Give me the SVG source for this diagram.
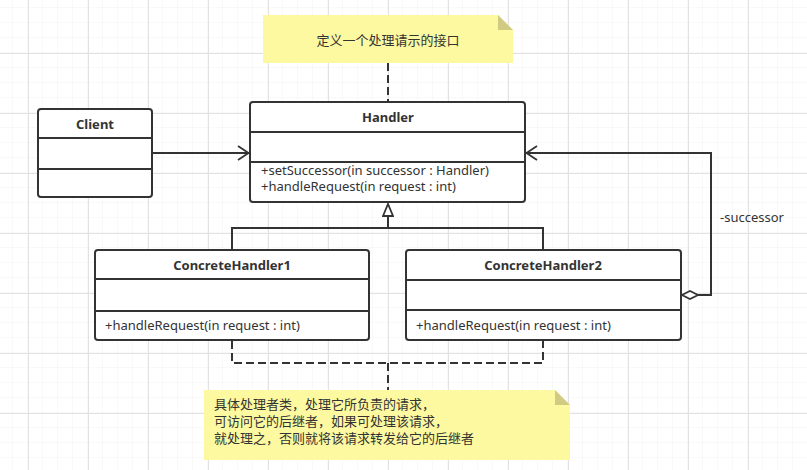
<svg xmlns="http://www.w3.org/2000/svg" width="807" height="470" viewBox="0 0 807 470">
<defs>
<pattern id="minor" x="-2" y="8" width="15" height="15" patternUnits="userSpaceOnUse">
<path d="M15 0V15M0 15H15" fill="none" stroke="#f2f2f2" stroke-width="1"/>
</pattern>
<pattern id="major" x="28" y="53" width="60" height="60" patternUnits="userSpaceOnUse">
<path d="M0.5 0V60M0 0.5H60" fill="none" stroke="#e2e2e2" stroke-width="1"/>
</pattern>
<marker id="open" viewBox="0 0 12 16" refX="12" refY="8" markerWidth="12" markerHeight="16" markerUnits="userSpaceOnUse" orient="auto">
<path d="M1 1L11.5 8L1 15" fill="none" stroke="#333" stroke-width="1.8"/>
</marker>
<marker id="tri" viewBox="0 0 14 12" refX="13" refY="6" markerWidth="14" markerHeight="12" markerUnits="userSpaceOnUse" orient="auto">
<path d="M1 1L13 6L1 11Z" fill="#fff" stroke="#333" stroke-width="1.8"/>
</marker>
<marker id="dia" viewBox="0 0 18 10" refX="1" refY="5" markerWidth="18" markerHeight="10" markerUnits="userSpaceOnUse" orient="auto">
<path d="M1 5L9 1L17 5L9 9Z" fill="#fff" stroke="#333" stroke-width="1.6"/>
</marker>
</defs>
<style>
.box{fill:#fff;stroke:#333;stroke-width:2}
.div{stroke:#333;stroke-width:2}
.t{font-family:"Noto Sans","Noto Sans CJK SC",sans-serif;font-size:13px;fill:#333}
.b{font-weight:bold;text-anchor:middle}
.c{font-family:"Noto Sans CJK SC","Noto Sans",sans-serif;font-size:13px;fill:#333}
.note{fill:#fdf9a1}
.fold{fill:#d0ca82}
.ln{fill:none;stroke:#333;stroke-width:2}
.dash{fill:none;stroke:#333;stroke-width:2;stroke-dasharray:8 4}
</style>
<rect width="807" height="470" fill="#fff"/>
<rect width="807" height="470" fill="url(#minor)"/>
<rect width="807" height="470" fill="url(#major)"/>

<g id="connectors">
<path class="dash" d="M388 63V102"/>
<path class="ln" d="M152 153H249" marker-end="url(#open)"/>
<path class="ln" d="M232 250V228H543V250"/>
<path class="ln" d="M388 228V204" marker-end="url(#tri)"/>
<path class="ln" d="M682 295H711V153H526" marker-start="url(#dia)" marker-end="url(#open)"/>
<path class="dash" d="M232 341V363H543V341"/>
<path class="dash" d="M388 363V390"/>
<text class="t" x="720" y="222">-successor</text>
</g>

<g id="note1">
<path class="note" d="M263 15H498L513 30V63H263Z"/>
<path class="fold" d="M498 15L513 30H498Z"/>
<text class="c" x="388" y="45" text-anchor="middle">定义一个处理请示的接口</text>
</g>

<g id="handler">
<rect class="box" x="250" y="102" width="275" height="100" rx="3"/>
<path class="div" d="M250 132H525M250 162H525"/>
<text class="t b" x="388" y="122">Handler</text>
<text class="t" x="261" y="175">+setSuccessor(in successor : Handler)</text>
<text class="t" x="261" y="191">+handleRequest(in request : int)</text>
</g>

<g id="client">
<rect class="box" x="38" y="109" width="114" height="88" rx="3"/>
<path class="div" d="M38 138H152M38 169H152"/>
<text class="t b" x="95" y="129">Client</text>
</g>

<g id="concreteHandler1">
<rect class="box" x="95" y="250" width="274" height="90" rx="3"/>
<path class="div" d="M95 279H369M95 311H369"/>
<text class="t b" x="232" y="270">ConcreteHandler1</text>
<text class="t" x="105" y="330">+handleRequest(in request : int)</text>
</g>

<g id="concreteHandler2">
<rect class="box" x="406" y="250" width="275" height="90" rx="3"/>
<path class="div" d="M406 280H681M406 310H681"/>
<text class="t b" x="543" y="270">ConcreteHandler2</text>
<text class="t" x="416" y="330">+handleRequest(in request : int)</text>
</g>

<g id="note2">
<path class="note" d="M204 390H555L570 405V460H204Z"/>
<path class="fold" d="M555 390L570 405H555Z"/>
<text class="c" x="214" y="409">具体处理者类，处理它所负责的请求，</text>
<text class="c" x="214" y="426">可访问它的后继者，如果可处理该请求，</text>
<text class="c" x="214" y="443">就处理之，否则就将该请求转发给它的后继者</text>
</g>
</svg>
